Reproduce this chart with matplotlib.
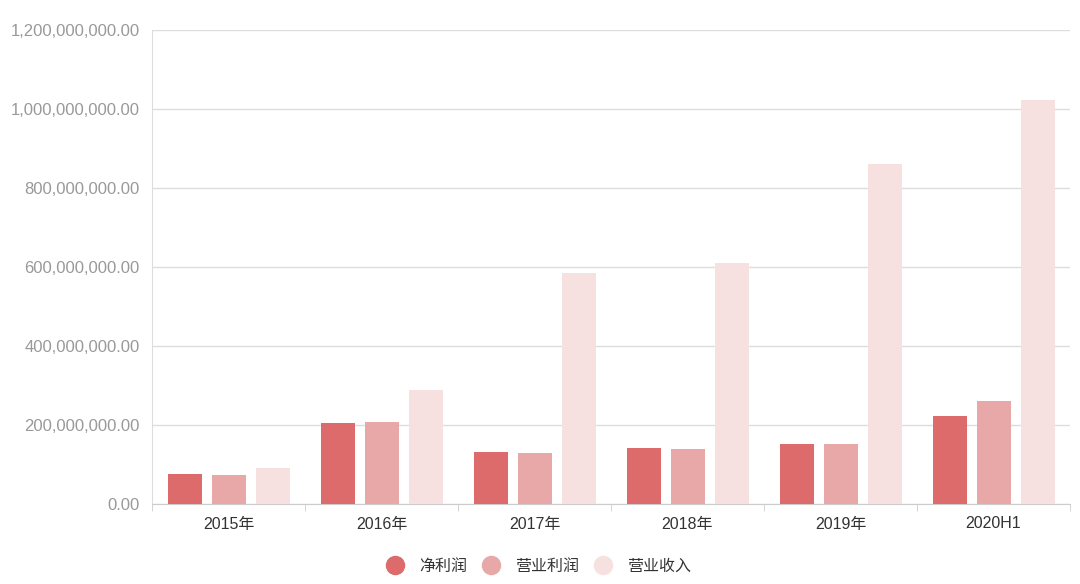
import matplotlib
matplotlib.use("Agg")
import matplotlib.pyplot as plt
from matplotlib.ticker import FuncFormatter, MultipleLocator
from matplotlib.lines import Line2D
import numpy as np

plt.rcParams['font.family'] = ['Liberation Sans', 'Noto Sans CJK SC', 'DejaVu Sans']

categories = ["2015年", "2016年", "2017年", "2018年", "2019年", "2020H1"]
series_names = ["净利润", "营业利润", "营业收入"]
net_profit = [76e6, 205e6, 132e6, 142e6, 152e6, 223e6]
op_profit = [74e6, 207e6, 129e6, 139e6, 152e6, 261e6]
revenue = [91e6, 289e6, 585e6, 610e6, 861e6, 1023e6]
colors = ["#dd6b6b", "#e9a8a8", "#f7e0e0"]

W, H = 1080, 584
fig = plt.figure(figsize=(W / 100, H / 100), dpi=100)
ax = fig.add_axes([152 / W, (H - 504) / H, 918 / W, 474 / H])

x = np.arange(len(categories))
bw = 34 / 153
step = 44 / 153
for i, (vals, c) in enumerate(zip([net_profit, op_profit, revenue], colors)):
    ax.bar(x + (i - 1) * step, vals, width=bw, color=c, zorder=3)

ax.set_xlim(-0.5, len(categories) - 0.5)
ax.set_ylim(0, 1.2e9)
ax.yaxis.set_major_locator(MultipleLocator(2e8))
ax.yaxis.set_major_formatter(FuncFormatter(lambda v, p: f"{v:,.2f}"))
ax.grid(axis='y', color='#dddddd', linewidth=1, zorder=0)

for s in ['top', 'right']:
    ax.spines[s].set_visible(False)
ax.spines['left'].set_color('#dddddd')
ax.spines['bottom'].set_color('#cccccc')

ax.set_xticks(x)
ax.set_xticklabels(categories)
ax.set_xticks(np.arange(-0.5, len(categories), 1), minor=True)
ax.tick_params(axis='x', which='major', length=0, pad=9, labelsize=11.5, labelcolor='#333333')
ax.tick_params(axis='x', which='minor', length=5, color='#cccccc')
ax.tick_params(axis='y', length=0, pad=9, labelsize=12, labelcolor='#999999')

handles = [Line2D([0], [0], marker='o', linestyle='', markersize=13,
                  markerfacecolor=c, markeredgecolor=c) for c in colors]
fig.legend(handles, series_names, loc='center', bbox_to_anchor=(539 / W, 1 - 566 / H),
           ncol=3, frameon=False, handlelength=1.0, handletextpad=1.0, columnspacing=1.0,
           labelcolor='#333333', prop={'family': ['Noto Sans CJK SC'], 'size': 11.5})

fig.savefig("out.png", dpi=100)
